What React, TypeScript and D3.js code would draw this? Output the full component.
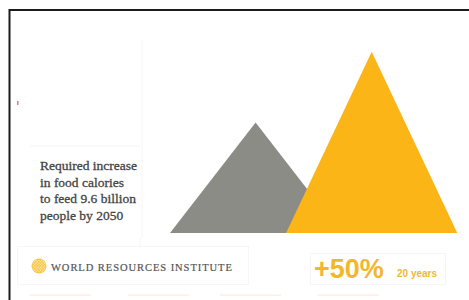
import * as d3 from "d3";
import { useEffect, useRef } from "react";

// relative food calories (2050 = 100)
const categories = ["2006", "2050"];
const values = [61, 100];
const colors = ["#8c8c87", "#fbb516"];
const captionLines = [
  "Required increase",
  "in food calories",
  "to feed 9.6 billion",
  "people by 2050",
];
const orgName = "WORLD RESOURCES INSTITUTE";
const increaseLabel = "+50%";
const periodLabel = "20 years";

const W = 469;
const H = 300;

const App = () => {
  const ref = useRef<SVGSVGElement | null>(null);

  useEffect(() => {
    if (!ref.current) return;
    const svg = d3.select(ref.current);
    svg.selectAll("*").remove();

    const base = 233;
    const halfW = 85.6;
    const x = d3.scalePoint<string>().domain(categories).range([255.6, 371.7]);
    const y = d3.scaleLinear().domain([0, 100]).range([base, 51.7]);

    // frame
    svg
      .append("rect")
      .attr("width", W)
      .attr("height", H)
      .attr("fill", "#fff");
    svg
      .append("path")
      .attr("d", `M9.5,${H} V10 H${W}`)
      .attr("fill", "none")
      .attr("stroke", "#1c1c1c")
      .attr("stroke-width", 2);

    // faint panels
    const faint = svg.append("g").attr("fill", "none").attr("stroke", "#f6f6f6");
    faint.append("path").attr("d", "M142,40 V238 M30,146 H140 M140,238 V248");
    faint.append("rect").attr("x", 17.5).attr("y", 246.5).attr("width", 231).attr("height", 38);
    faint.append("rect").attr("x", 310.5).attr("y", 253.5).attr("width", 135).attr("height", 31);

    // bottom faint pink strips
    svg
      .append("g")
      .selectAll("rect")
      .data([30, 128, 220, 318])
      .join("rect")
      .attr("x", (d) => d)
      .attr("y", 294.5)
      .attr("width", 61)
      .attr("height", 1.2)
      .attr("fill", "#fcebe4");

    // small red mark
    svg
      .append("rect")
      .attr("x", 17)
      .attr("y", 101)
      .attr("width", 1.5)
      .attr("height", 4)
      .attr("fill", "#f07a6a");

    // triangles
    const data = categories.map((c, i) => ({ c, v: values[i], color: colors[i] }));
    svg
      .append("g")
      .selectAll("path")
      .data(data)
      .join("path")
      .attr("d", (d) => {
        const cx = x(d.c)!;
        return `M${cx - halfW},${base} L${cx},${y(d.v)} L${cx + halfW},${base} Z`;
      })
      .attr("fill", (d) => d.color);

    // caption
    svg
      .append("text")
      .attr("font-family", "'Liberation Serif', serif")
      .attr("font-size", 13.5)
      .attr("fill", "#444")
      .attr("stroke", "#444")
      .attr("stroke-width", 0.3)
      .selectAll("tspan")
      .data(captionLines)
      .join("tspan")
      .attr("x", 40)
      .attr("y", (_, i) => 170 + i * 16.5)
      .text((d) => d);

    // logo
    const logo = svg.append("g").attr("transform", "translate(39,266)");
    logo.append("circle").attr("r", 7.5).attr("fill", "#f7c64a");
    const dots = d3.range(-3, 4).flatMap((i) => d3.range(-3, 4).map((j) => [i, j]));
    logo
      .selectAll("circle.dot")
      .data(dots.filter(([i, j]) => Math.abs(i) + Math.abs(j) <= 4))
      .join("circle")
      .attr("class", "dot")
      .attr("cx", (d) => (d[0] - d[1]) * 1.4)
      .attr("cy", (d) => (d[0] + d[1]) * 1.4)
      .attr("r", 0.7)
      .attr("fill", "#fde9b0");

    svg
      .append("text")
      .attr("x", 51)
      .attr("y", 271)
      .attr("font-family", "'Liberation Serif', serif")
      .attr("font-size", 10.5)
      .attr("letter-spacing", 0.95)
      .attr("fill", "#555")
      .attr("stroke", "#555")
      .attr("stroke-width", 0.2)
      .text(orgName);

    svg
      .append("text")
      .attr("x", 314)
      .attr("y", 278)
      .attr("font-family", "'Liberation Sans', Arial, sans-serif")
      .attr("font-weight", "bold")
      .attr("font-size", 27)
      .attr("fill", "#f2b72c")
      .text(increaseLabel);

    svg
      .append("text")
      .attr("x", 397)
      .attr("y", 277)
      .attr("font-family", "'Liberation Sans', Arial, sans-serif")
      .attr("font-weight", "bold")
      .attr("font-size", 10)
      .attr("fill", "#eeb934")
      .text(periodLabel);
  }, []);

  return (
    <svg
      ref={ref}
      width={W}
      height={H}
      style={{ position: "absolute", left: 0, top: 0, display: "block" }}
    />
  );
};

export default App;
